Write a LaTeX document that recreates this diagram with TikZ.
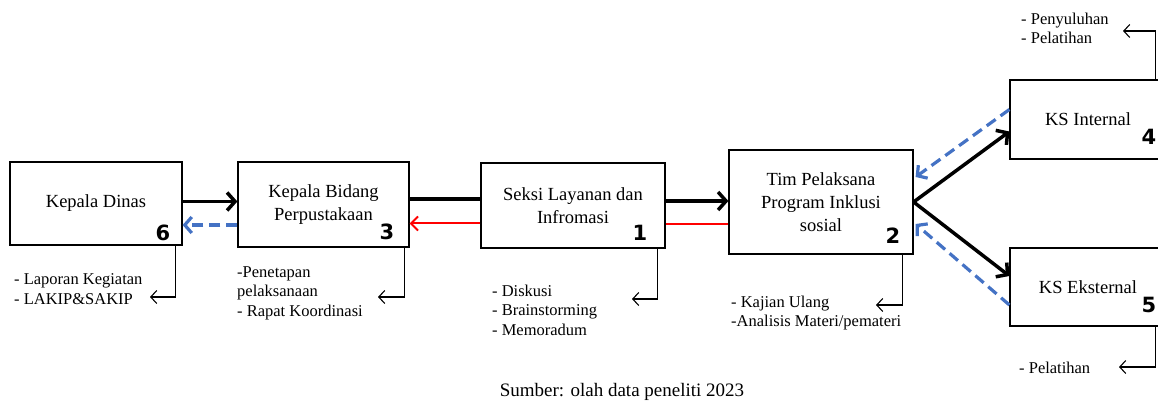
\documentclass[tikz,border=0pt]{standalone}
\usepackage{fontspec}
\setmainfont{Liberation Serif}
\newfontfamily\numfont{DejaVu Sans}
\usetikzlibrary{arrows.meta}
\definecolor{dashblue}{HTML}{4472C4}
\definecolor{backred}{HTML}{FF0000}

\begin{document}
\begin{tikzpicture}[x=1pt,y=-1pt,
        box/.style={draw,line width=1.2pt,align=center,inner sep=0pt,font=\fontsize{18.5}{23}\selectfont},
        num/.style={inner sep=0pt,font=\numfont\bfseries\fontsize{21}{21}\selectfont},
        note/.style={anchor=west,align=left,inner sep=0pt,font=\fontsize{16.5}{19.5}\selectfont},
        flow/.style={line width=3.5pt,-{Straight Barb[length=8pt,width=18pt]}},
        plain/.style={line width=3.5pt},
        back/.style={line width=3.2pt,dashblue,dash pattern=on 11pt off 6pt,-{Straight Barb[length=7pt,width=16pt]}},
        redback/.style={line width=2pt,backred,-{Straight Barb[length=7pt,width=14pt]}},
        hook/.style={line width=1.1pt,-{Straight Barb[length=6pt,width=13pt]}}]
            \useasboundingbox (0,0) rectangle (1158,403);
            \clip (0,0) rectangle (1158,403);
            \node[box,minimum width=172pt,minimum height=83pt] (kd) at (96,203.5) {Kepala Dinas};
            \node[box,minimum width=171pt,minimum height=85pt] (kb) at (323.5,204.5) {Kepala Bidang\\Perpustakaan};
            \node[box,minimum width=184pt,minimum height=85pt] (sl) at (573,205.5) {Seksi Layanan dan\\Infromasi};
            \node[box,minimum width=184pt,minimum height=104pt] (tp) at (821,202) {Tim Pelaksana\\Program Inklusi\\sosial};
            \node[box,minimum width=156pt,minimum height=79pt] (ksi) at (1088,119.5) {KS Internal};
            \node[box,minimum width=156pt,minimum height=78pt] (kse) at (1088,287) {KS Eksternal};
            \node[num] (n6) at (163,233) {6};
            \node[num] (n3) at (387,232) {3};
            \node[num] (n1) at (640,233) {1};
            \node[num] (n2) at (893,236) {2};
            \node[num] (n4) at (1149,137) {4};
            \node[num] (n5) at (1149,305) {5};
            \draw[flow] ([yshift=2pt]kd.east) -- ([yshift=3pt]kb.west);
            \draw[back] ([yshift=-20.5pt]kb.west) -- ([yshift=-21.5pt]kd.east);
            \draw[plain] ([yshift=5.5pt]kb.east) -- ([yshift=6.5pt]sl.west);
            \draw[redback] ([yshift=-18pt]sl.west) -- ([yshift=-19pt]kb.east);
            \draw[flow] ([yshift=4.5pt]sl.east) -- ([yshift=1pt]tp.west);
            \draw[line width=2pt,backred] ([yshift=-22pt]tp.west) -- ([yshift=-18.5pt]sl.east);
            \draw[flow] (tp.east) -- ([yshift=-12pt]ksi.west);
            \draw[flow] (tp.east) -- ([yshift=11pt]kse.west);
            \draw[back] ([yshift=10pt]ksi.west) -- ([shift={(2pt,25pt)}]tp.east);
            \draw[back] ([yshift=-18pt]kse.west) -- ([shift={(2pt,-22pt)}]tp.east);
            \node[note] (t6) at (14,289) {- Laporan Kegiatan\\- LAKIP\&SAKIP};
            \node[note] (t3) at (237,293) {-Penetapan\\pelaksanaan\\- Rapat Koordinasi};
            \node[note] (t1) at (492,310) {- Diskusi\\- Brainstorming\\- Memoradum};
            \node[note] (t2) at (731,313) {- Kajian Ulang\\-Analisis Materi/pemateri};
            \node[note] (t4) at (1021,28.5) {- Penyuluhan\\- Pelatihan};
            \node[note] (t5) at (1019,368) {- Pelatihan};
            \coordinate (e6) at (150,297);
            \coordinate (e3) at (378,297);
            \coordinate (e1) at (632,299);
            \coordinate (e2) at (876,305);
            \coordinate (e4) at (1123,31);
            \coordinate (e5) at (1119,367);
            \draw[hook] ([xshift=-7pt]kd.south east) |- (e6);
            \draw[hook] ([xshift=-5pt]kb.south east) |- (e3);
            \draw[hook] ([xshift=-8pt]sl.south east) |- (e1);
            \draw[hook] ([xshift=-11pt]tp.south east) |- (e2);
            \draw[hook] ([xshift=-11pt]ksi.north east) |- (e4);
            \draw[hook] ([xshift=-11pt]kse.south east) |- (e5);
            \node[font=\fontsize{19}{23}\selectfont] (src) at (622,392) {Sumber: olah data peneliti 2023};
\end{tikzpicture}
\end{document}
